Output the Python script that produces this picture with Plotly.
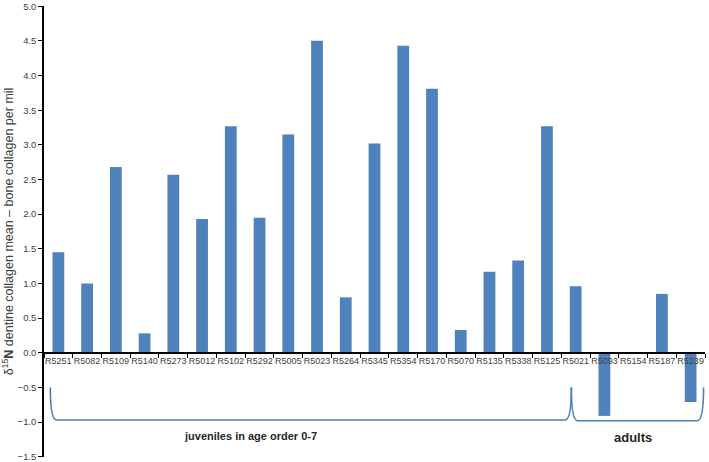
import plotly.graph_objects as go

categories = ["R5251", "R5082", "R5109", "R5140", "R5273", "R5012", "R5102", "R5292",
              "R5005", "R5023", "R5264", "R5345", "R5354", "R5170", "R5070", "R5135",
              "R5338", "R5125", "R5021", "R5093", "R5154", "R5187", "R5239"]
values = [1.45, 1.0, 2.68, 0.28, 2.57, 1.93, 3.27, 1.95,
          3.15, 4.5, 0.8, 3.02, 4.43, 3.81, 0.33, 1.17,
          1.33, 3.27, 0.96, -0.91, 0.0, 0.85, -0.71]
group_labels = ["juveniles in age order 0-7", "adults"]

bar_color = "#4f81bd"
brace_color = "#4a7ebb"
ymin, ymax = -1.5, 5.0
eps = 0.003

fig = go.Figure()
fig.add_trace(go.Bar(x=categories, y=values, marker=dict(color=bar_color, line=dict(width=0)),
                     width=0.41, showlegend=False))


def brace_path(x_left, x_right, y_top, y_bot, r=0.22):
    return (f"M {x_left} {y_top} Q {x_left} {y_bot} {x_left + r} {y_bot} "
            f"L {x_right - r} {y_bot} Q {x_right} {y_bot} {x_right} {y_top}")

cusp = 17.85
shapes = [
    dict(type="path", xref="x2", yref="y", path=brace_path(-0.28, cusp, -0.5, -0.97),
         line=dict(color=brace_color, width=1.6)),
    dict(type="path", xref="x2", yref="y", path=brace_path(cusp, 22.45, -0.5, -0.98),
         line=dict(color=brace_color, width=1.6)),
]

fig.add_trace(go.Scatter(x=[0], y=[0], xaxis="x2", mode="markers", opacity=0,
                         showlegend=False, hoverinfo="skip"))

tick_font = dict(family="Liberation Sans, Arial, sans-serif", size=9, color="#404040")

fig.update_layout(
    width=709, height=462,
    margin=dict(l=44, r=4, t=6, b=5),
    plot_bgcolor="white", paper_bgcolor="white",
    font=dict(family="Liberation Sans, Arial, sans-serif", color="#333333"),
    bargap=0.59,
    shapes=shapes,
    yaxis=dict(range=[ymin - eps, ymax + eps], dtick=0.5, tick0=0, tickformat=".1f",
               showgrid=False, automargin=False, ticklabeloverflow="allow",
               zeroline=False, showline=True, linecolor="black", linewidth=1.5,
               ticks="outside", ticklen=4, tickcolor="black",
               tickfont=dict(family="Liberation Sans, Arial, sans-serif", size=9.5,
                             color="#404040"),
               title=dict(text="δ<sup>15</sup><b>N</b> dentine collagen mean – bone collagen per mil",
                          font=dict(family="Liberation Sans, Arial, sans-serif", size=12.5,
                                    color="#404040"), standoff=5)),
    xaxis=dict(type="category", showgrid=False, zeroline=False, showline=True,
               automargin=False, ticklabeloverflow="allow",
               linecolor="black", linewidth=1.5, ticks="outside", ticklen=4,
               tickcolor="black", tickson="boundaries", anchor="free",
               position=(0 - ymin) / (ymax - ymin),
               tickfont=tick_font, tickangle=0,
               range=[-0.5, len(categories) - 0.5]),
    xaxis2=dict(overlaying="x", range=[-0.5, len(categories) - 0.5], visible=False),
    annotations=[
        dict(x=6.7, y=-1.2, xref="x2", yref="y", text=f"<b>{group_labels[0]}</b>",
             showarrow=False, font=dict(size=11, color="#262626")),
        dict(x=20.0, y=-1.22, xref="x2", yref="y", text=f"<b>{group_labels[1]}</b>",
             showarrow=False, font=dict(size=13, color="#262626")),
    ],
)

fig.write_html("out.html", config={"displayModeBar": False},
               post_script="document.body.style.margin='0';document.body.style.overflow='hidden';")
